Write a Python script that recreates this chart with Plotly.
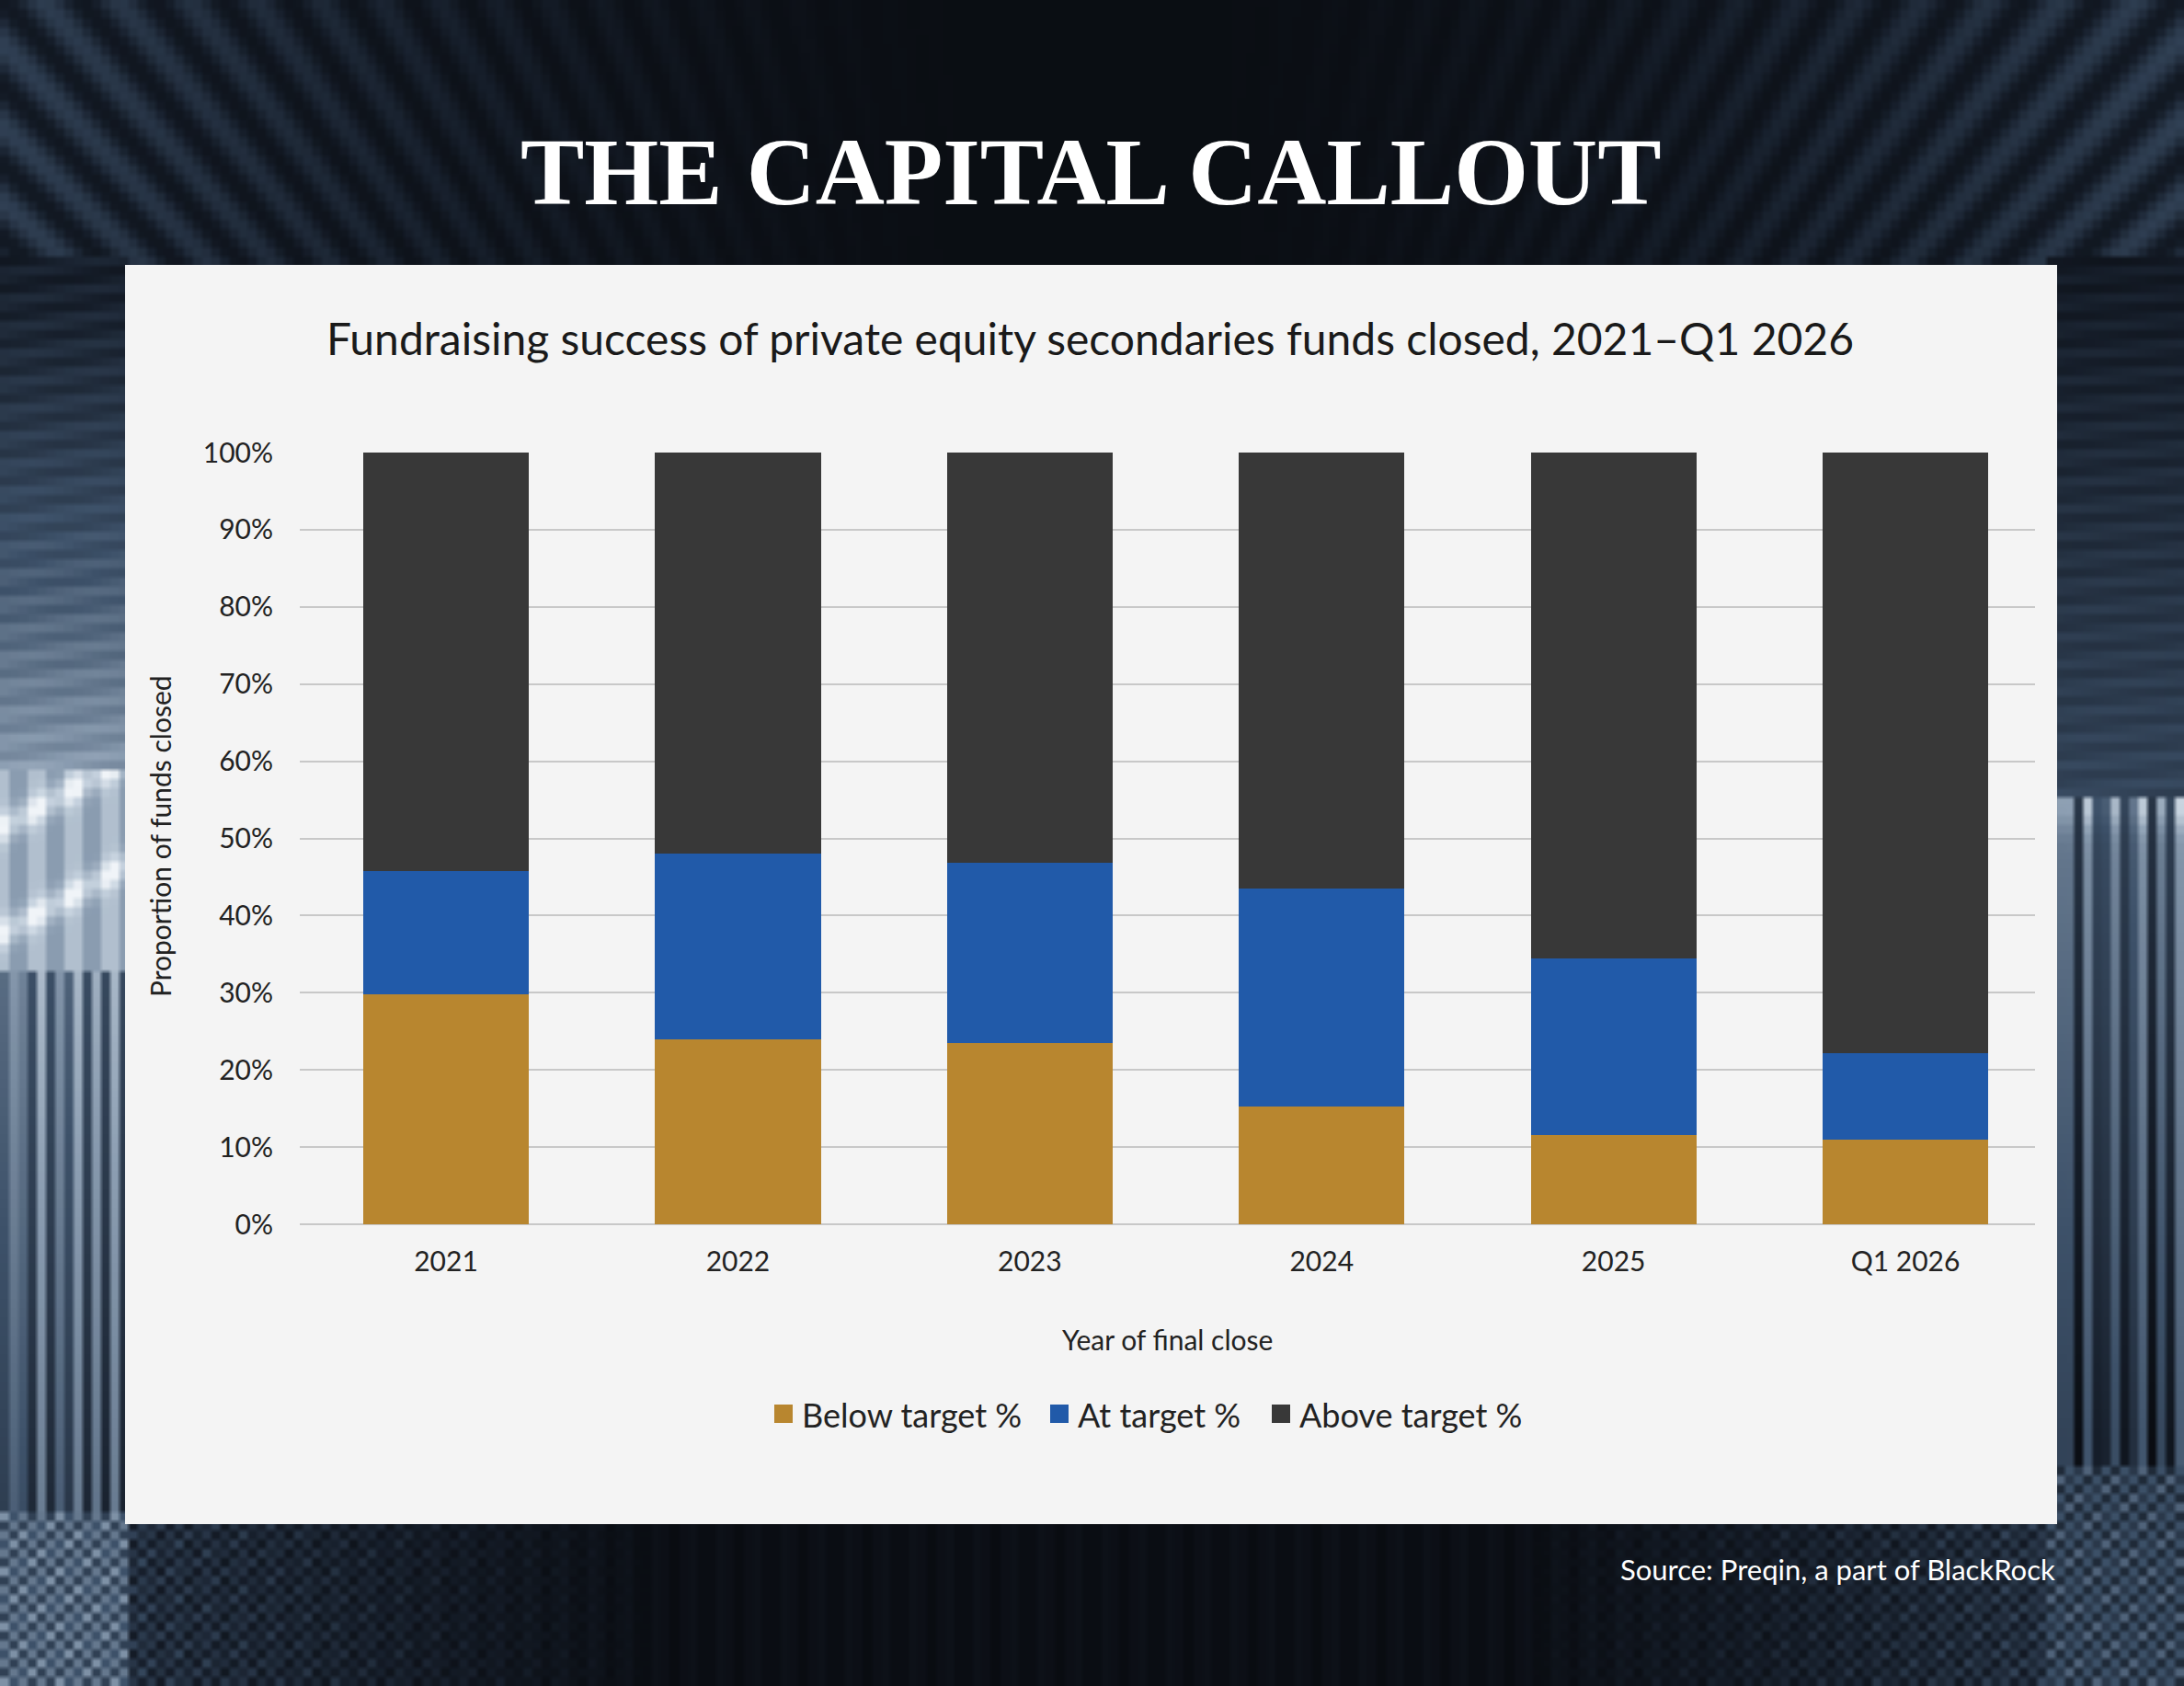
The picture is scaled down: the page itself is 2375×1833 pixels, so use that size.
import base64, struct, zlib
import numpy as np
import plotly.graph_objects as go

# ---------------- data ----------------
categories = ["2021", "2022", "2023", "2024", "2025", "Q1 2026"]
below_target = [29.8, 24.0, 23.5, 15.3, 11.6, 11.0]
at_target = [16.0, 24.0, 23.4, 28.2, 22.9, 11.2]
above_target = [54.2, 52.0, 53.1, 56.5, 65.5, 77.8]
series_names = ["Below target %", "At target %", "Above target %"]
y_ticks = list(range(0, 101, 10))

W, H = 2375, 1833

# ---------------- decorative background texture ----------------
def make_background():
    cell = 10
    gw, gh = (W + cell - 1) // cell, (H + cell - 1) // cell
    gx, gy = np.meshgrid(np.arange(gw), np.arange(gh))
    X = (gx + 0.5) * cell
    Y = (gy + 0.5) * cell
    cx, cy = 1187.0, 1300.0
    dxn = (X - cx) / cx
    theta = np.arctan2(Y - cy, X - cx)
    radial = 0.5 + 0.5 * np.cos(theta * 170)
    env = np.clip((np.abs(dxn) - 0.1) / 0.9, 0, 1) ** 1.4
    b = 0.03 + 0.32 * env * (0.25 + 0.75 * radial)

    checker = ((gx + gy) % 2).astype(float)
    checker2 = (((gx // 2) + gy) % 3 == 0).astype(float)

    # left margin
    L = X < 140
    bandA = 0.15 + 0.58 * np.clip((Y - 280) / 560, 0, 1) ** 1.2 + 0.05 * np.cos(Y * 2 * np.pi / 30 + X * 0.03)
    bandB = 0.8 + 0.08 * np.cos(X * 2 * np.pi / 40) + 0.17 * np.exp(-((Y - (905 - 0.55 * X)) / 16) ** 2) \
        + 0.17 * np.exp(-((Y - (1020 - 0.55 * X)) / 16) ** 2)
    vstr = 0.5 + 0.5 * np.cos(X * 2 * np.pi / 21 + 0.7 * np.sin(X * 0.11))
    bandC = 0.62 - 0.22 * np.clip((Y - 1060) / 590, 0, 1) + (vstr - 0.5) * 0.45
    bandD = 0.35 + 0.25 * checker + 0.1 * checker2
    left_b = np.where(Y < 280, b, np.where(Y < 840, bandA, np.where(Y < 1060, bandB,
                       np.where(Y < 1650, bandC, bandD))))
    b = np.where(L, np.maximum(left_b, 0), b)

    # right margin
    R = X > 2232
    rA = 0.12 + 0.25 * np.clip((Y - 280) / 580, 0, 1) + 0.04 * np.cos(Y * 2 * np.pi / 28 + X * 0.02)
    vstr2 = 0.5 + 0.5 * np.cos(X * 2 * np.pi / 19 + 1.3 * np.sin(X * 0.07))
    rB = 0.5 - 0.25 * np.clip((Y - 870) / 700, 0, 1) + (vstr2 - 0.5) * 0.5 \
        + 0.2 * np.exp(-((Y - 880) / 25) ** 2) * vstr2
    rC = 0.22 + 0.22 * checker + 0.08 * checker2
    right_b = np.where(Y < 280, b, np.where(Y < 870, rA, np.where(Y < 1600, rB, rC)))
    b = np.where(R, np.maximum(right_b, 0), b)

    # bottom strip
    B = (Y > 1655) & ~L & ~R
    side = np.clip((np.abs(X - cx) / cx - 0.4) / 0.55, 0, 1)
    bot = 0.04 + 0.02 * np.cos(X * 2 * np.pi / 14) + side * (0.12 + 0.18 * checker + 0.08 * checker2)
    b = np.where(B, bot, b)

    b = np.clip(b, 0, 1)
    stops = [0.0, 0.15, 0.45, 0.75, 0.92, 1.0]
    cols = np.array([[8, 10, 14], [22, 30, 42], [62, 82, 106], [140, 158, 178], [200, 212, 224], [240, 244, 248]], float)
    img = np.stack([np.interp(b, stops, cols[:, k]) for k in range(3)], axis=-1)
    img = np.clip(img, 0, 255).astype(np.uint8)
    img = np.repeat(np.repeat(img, 2, axis=0), 2, axis=1)
    h, w, _ = img.shape
    raw = b"".join(b"\x00" + img[rr].tobytes() for rr in range(h))

    def chunk(tag, data):
        return struct.pack(">I", len(data)) + tag + data + struct.pack(">I", zlib.crc32(tag + data) & 0xFFFFFFFF)

    png = b"\x89PNG\r\n\x1a\n" + chunk(b"IHDR", struct.pack(">IIBBBBB", w, h, 8, 2, 0, 0, 0)) \
        + chunk(b"IDAT", zlib.compress(raw, 9)) + chunk(b"IEND", b"")
    return "data:image/png;base64," + base64.b64encode(png).decode()

bg_uri = make_background()

# ---------------- figure ----------------
colors = ["#B8862F", "#215AA9", "#383838"]
values = [below_target, at_target, above_target]

fig = go.Figure()
for name, vals, col in zip(series_names, values, colors):
    fig.add_trace(go.Bar(
        x=categories, y=vals, name=name, width=0.568, showlegend=False,
        marker=dict(color=col, line=dict(width=0)),
        hovertemplate="%{x}: %{y:.1f}%<extra>" + name + "</extra>",
    ))

sans = "Lato, 'Noto Sans', sans-serif"
px_x = lambda p: p / W
px_y = lambda p: 1 - p / H

# custom legend (larger swatches than plotly's built-in legend)
legend_swatch_left = [842, 1142, 1383]
legend_shapes, legend_annots = [], []
for name, col, x0 in zip(series_names, colors, legend_swatch_left):
    legend_shapes.append(dict(type="rect", xref="paper", yref="paper",
                              x0=px_x(x0), x1=px_x(x0 + 20), y0=px_y(1547), y1=px_y(1527),
                              fillcolor=col, line=dict(width=0), layer="above"))
    legend_annots.append(dict(text=name, xref="paper", yref="paper", x=px_x(x0 + 28), y=px_y(1538),
                              xanchor="left", yanchor="middle", showarrow=False,
                              font=dict(family=sans, size=36, color="#222222")))

fig.update_layout(
    width=W, height=H, autosize=False,
    margin=dict(l=0, r=0, t=0, b=0, pad=0, autoexpand=False),
    paper_bgcolor="#0b0f15",
    plot_bgcolor="rgba(0,0,0,0)",
    barmode="stack",
    font=dict(family=sans, color="#222222", size=30),
    showlegend=False,
    xaxis=dict(
        domain=[px_x(326), px_x(2213)],
        range=[-0.501, 5.444],
        type="category",
        showgrid=False, zeroline=False, showline=False,
        ticks="", tickfont=dict(size=30, color="#222222"),
        ticklabelstandoff=20, automargin=False,
    ),
    yaxis=dict(
        domain=[px_y(1331), px_y(492)],
        range=[0, 100],
        tickvals=y_ticks, ticktext=[f"{t}%" for t in y_ticks],
        showgrid=True, gridcolor="#c8c8c8", gridwidth=2,
        zeroline=True, zerolinecolor="#c8c8c8", zerolinewidth=2,
        showline=False, ticks="",
        tickfont=dict(size=30, color="#222222"),
        ticklabelstandoff=28, automargin=False,
    ),
    images=[dict(
        source=bg_uri, xref="paper", yref="paper", x=0, y=1, sizex=1, sizey=1,
        sizing="stretch", xanchor="left", yanchor="top", layer="below",
    )],
    shapes=[dict(
        type="rect", xref="paper", yref="paper",
        x0=px_x(136), x1=px_x(2237), y0=px_y(1657), y1=px_y(288),
        fillcolor="#f4f4f4", line=dict(width=0), layer="below",
    )] + legend_shapes,
    annotations=[
        dict(text="<b>THE CAPITAL CALLOUT</b>", xref="paper", yref="paper",
             x=px_x(1186), y=px_y(186), xanchor="center", yanchor="middle", showarrow=False,
             font=dict(family="'Liberation Serif', 'DejaVu Serif', serif", size=104, color="#ffffff")),
        dict(text="Fundraising success of private equity secondaries funds closed, 2021–Q1 2026",
             xref="paper", yref="paper", x=px_x(1185), y=px_y(367), xanchor="center", yanchor="middle",
             showarrow=False, font=dict(family=sans, size=48, color="#1a1a1a")),
        dict(text="Year of final close", xref="paper", yref="paper",
             x=px_x(1269), y=px_y(1456), xanchor="center", yanchor="middle", showarrow=False,
             font=dict(family=sans, size=30, color="#222222")),
        dict(text="Proportion of funds closed", xref="paper", yref="paper", textangle=-90,
             x=px_x(174), y=px_y(909), xanchor="center", yanchor="middle", showarrow=False,
             font=dict(family=sans, size=30, color="#222222")),
        dict(text="Source: Preqin, a part of BlackRock", xref="paper", yref="paper",
             x=px_x(2237), y=px_y(1706), xanchor="right", yanchor="middle", showarrow=False,
             font=dict(family=sans, size=31, color="#ffffff")),
    ] + legend_annots,
)

fig.write_html("out.html")
